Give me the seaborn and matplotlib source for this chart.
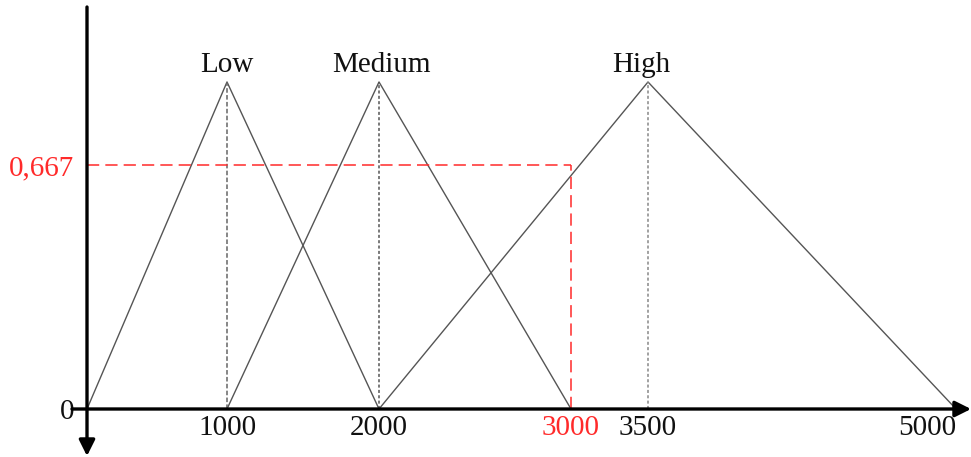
import numpy as np
import pandas as pd
import matplotlib
matplotlib.use("Agg")
import matplotlib.pyplot as plt
import seaborn as sns

# ---- data ----
sets = ["Low", "Medium", "High"]
left_pts = [0, 1000, 2000]
peak_pts = [1000, 2000, 3500]
right_pts = [2000, 3000, 5000]
input_value = 3000
membership_value = 0.667
x_tick_values = [1000, 2000, 3000, 3500, 5000]
x_tick_labels = ["1000", "2000", "3000", "3500", "5000"]
y_tick_values = [0, membership_value]
y_tick_labels = ["0", "0,667"]

rows = []
for s, a, b, c in zip(sets, left_pts, peak_pts, right_pts):
    rows += [(s, a, 0.0), (s, b, 1.0), (s, c, 0.0)]
df = pd.DataFrame(rows, columns=["set", "x", "mu"])

# ---- style ----
sns.set_theme(style="white")
plt.rcParams["font.family"] = ["Liberation Serif", "DejaVu Serif"]
RED = "#ff2a2a"
FS = 21

# piecewise scales reproducing the drawing's uneven spacing
XV = [-5000, 0, 1000, 2000, 3000, 3500, 5000, 20000]
XP = [-700, 0, 140, 292, 484, 561, 869, 3949]
YV = [-10, 0, 0.667, 1, 10]
YP = [-3660, 0, 244, 327, 2568]

fig = plt.figure(figsize=(9.71, 4.57), dpi=100)
W, H = 971, 457
ax = fig.add_axes([87 / W, 48 / H, 884 / W, 402 / H])
ax.set_xscale("function", functions=(lambda v: np.interp(v, XV, XP),
                                     lambda p: np.interp(p, XP, XV)))
ax.set_yscale("function", functions=(lambda v: np.interp(v, YV, YP),
                                     lambda p: np.interp(p, YP, YV)))

sns.lineplot(data=df, x="x", y="mu", hue="set", units="set", estimator=None,
             sort=False, palette=["#555555"] * 3, linewidth=1.0, legend=False, ax=ax)

# dotted verticals at peaks
for p, col, ls in zip(peak_pts, ["#666666", "#555555", "#888888"],
                      [(0, (3, 1.5)), (0, (2, 1.5)), (0, (2, 1.5))]):
    ax.plot([p, p], [0, 1], color=col, lw=1.1, linestyle=ls)

# red dashed guides
ax.plot([0, input_value], [membership_value, membership_value], color=RED, lw=1.1,
        linestyle=(0, (8, 4)))
ax.plot([input_value, input_value], [0, membership_value], color=RED, lw=1.1,
        linestyle=(0, (8, 4)))

# set labels
label_dx = [0, 2, -5]
for s, p, dx in zip(sets, peak_pts, label_dx):
    ax.annotate(s, xy=(p, 1), xytext=(dx, 7), textcoords="offset points",
                ha="center", va="baseline", fontsize=FS, color="#111111")

ax.set_xlim(0, 5073)
ax.set_ylim(0, 1.301)
for sp in ax.spines.values():
    sp.set_visible(False)

# axis lines with arrows
ax.annotate("", xy=(1.0, 0), xycoords="axes fraction", xytext=(-15 / 884, 0),
            textcoords="axes fraction",
            arrowprops=dict(arrowstyle="-|>", lw=2.4, color="black",
                            mutation_scale=24, shrinkA=0, shrinkB=0),
            annotation_clip=False)
ax.annotate("", xy=(0, -47 / 402), xycoords="axes fraction", xytext=(0, 1.0),
            textcoords="axes fraction",
            arrowprops=dict(arrowstyle="-|>", lw=2.4, color="black",
                            mutation_scale=24, shrinkA=0, shrinkB=0),
            annotation_clip=False)

ax.set_xticks(x_tick_values)
ax.set_xticklabels(x_tick_labels, fontsize=FS)
ax.set_yticks(y_tick_values)
ax.set_yticklabels(y_tick_labels, fontsize=FS)
ax.tick_params(axis="x", length=0, pad=4)
ax.tick_params(axis="y", length=0, pad=9)
ax.minorticks_off()
for lab in ax.get_xticklabels():
    lab.set_color("#111111")
    if lab.get_text() == "3000":
        lab.set_color(RED)
    if lab.get_text() == "5000":
        lab.set_horizontalalignment("right")
for lab in ax.get_yticklabels():
    lab.set_color("#111111")
    if lab.get_text() == "0,667":
        lab.set_color(RED)
    lab.set_verticalalignment("center_baseline")
ax.set_xlabel("")
ax.set_ylabel("")

fig.savefig("out.png", dpi=100, facecolor="white")
